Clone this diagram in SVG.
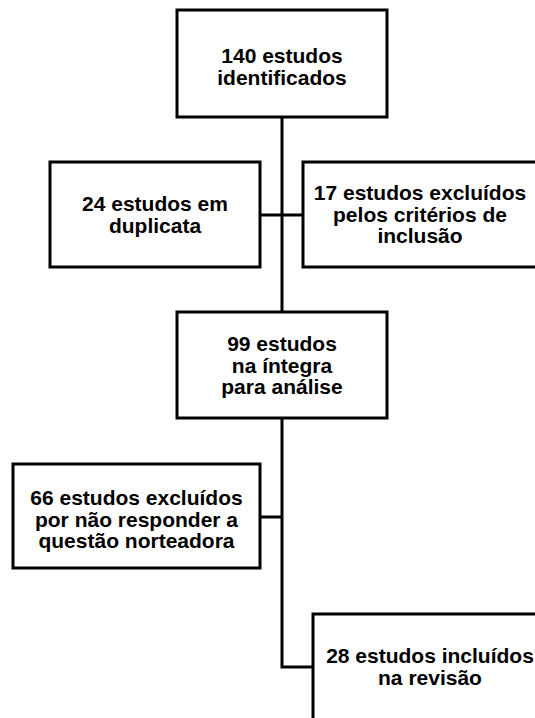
<svg xmlns="http://www.w3.org/2000/svg" width="535" height="718" viewBox="0 0 535 718">
<style>
.box{fill:#fff;stroke:#000;stroke-width:3}
.t{font-family:"Liberation Sans",Arial,sans-serif;font-weight:bold;font-size:21px;text-anchor:middle;fill:#000}
.c{fill:none;stroke:#000;stroke-width:3}
</style>
<rect width="535" height="718" fill="#fff"/>
<g id="connectors">
<path class="c" d="M282 117 V312"/>
<path class="c" d="M260 215 H303"/>
<path class="c" d="M282 418 V667 H313"/>
<path class="c" d="M260 517 H282"/>
</g>
<g id="n1">
<rect class="box" x="177" y="10" width="210" height="107"/>
<text class="t" x="282" y="62.5">140 estudos</text>
<text class="t" x="282" y="84.5">identificados</text>
</g>
<g id="n2">
<rect class="box" x="50" y="162" width="210" height="105"/>
<text class="t" x="155" y="211">24 estudos em</text>
<text class="t" x="155" y="232.5">duplicata</text>
</g>
<g id="n3">
<rect class="box" x="303" y="162" width="236" height="105"/>
<text class="t" x="420" y="199.5">17 estudos excluídos</text>
<text class="t" x="420" y="221.5">pelos critérios de</text>
<text class="t" x="420" y="243">inclusão</text>
</g>
<g id="n4">
<rect class="box" x="177" y="312" width="210" height="106"/>
<text class="t" x="282" y="351">99 estudos</text>
<text class="t" x="282" y="372.5">na íntegra</text>
<text class="t" x="282" y="394">para análise</text>
</g>
<g id="n5">
<rect class="box" x="13" y="464" width="247" height="104"/>
<text class="t" x="136.5" y="505">66 estudos excluídos</text>
<text class="t" x="136.5" y="526.5">por não responder a</text>
<text class="t" x="136.5" y="548">questão norteadora</text>
</g>
<g id="n6">
<rect class="box" x="313" y="614" width="236" height="130"/>
<text class="t" x="430" y="663">28 estudos incluídos</text>
<text class="t" x="430" y="685">na revisão</text>
</g>
</svg>
